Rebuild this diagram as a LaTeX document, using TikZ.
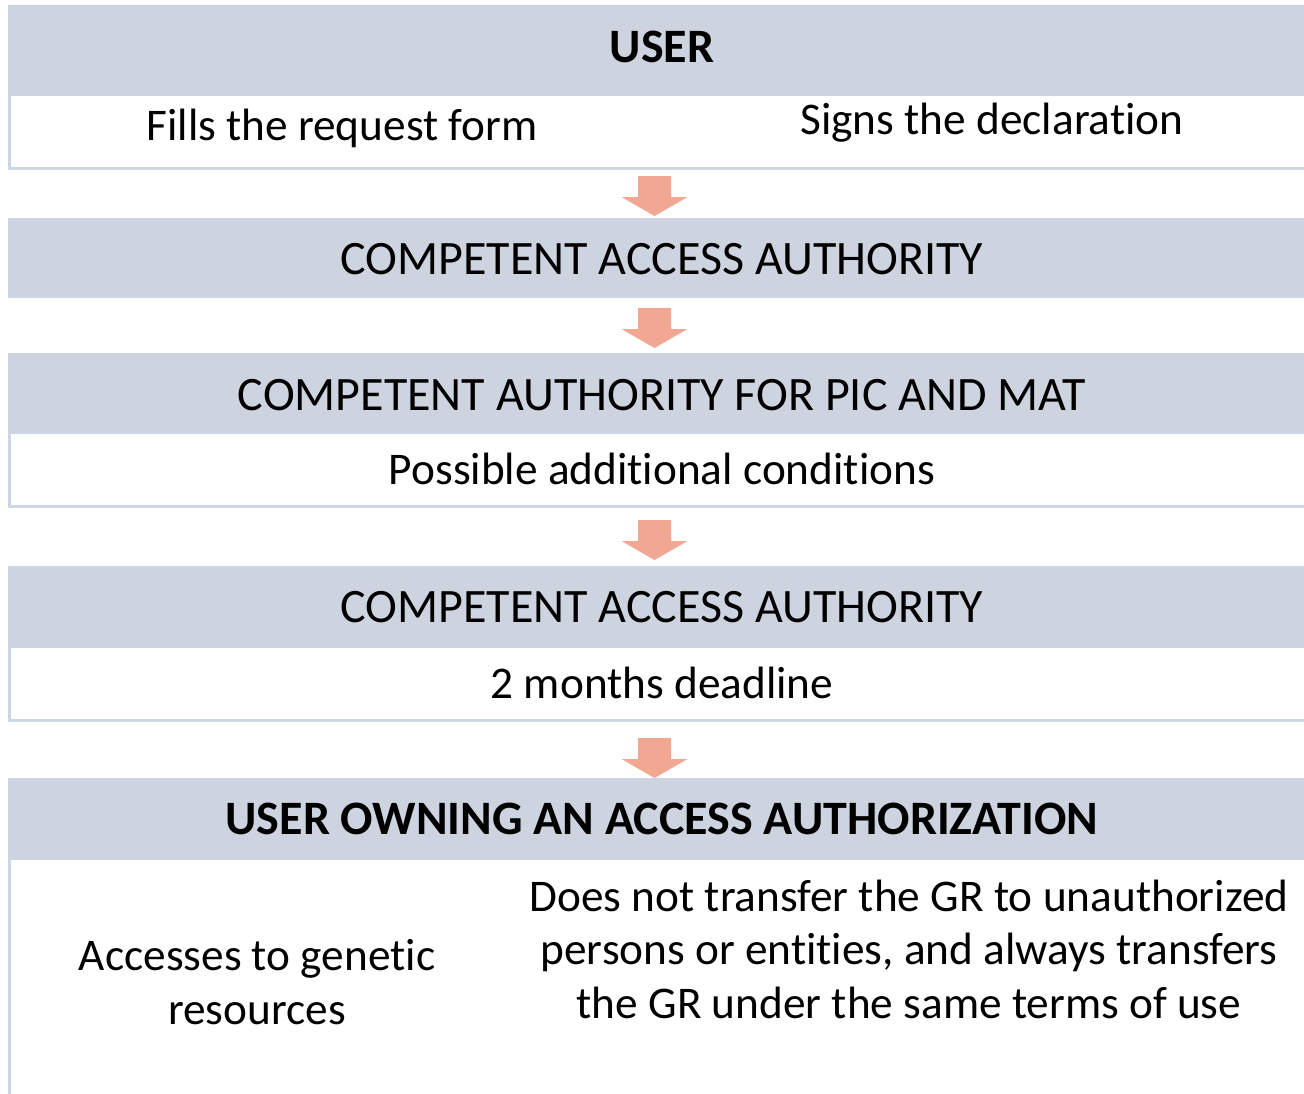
\documentclass[tikz,border=0pt]{standalone}
\usepackage{fontspec}
\setmainfont{Carlito}[Ligatures={NoCommon}]
\usetikzlibrary{calc}
\definecolor{hdrfill}{HTML}{CDD4E0}
\definecolor{bordc}{HTML}{CFD6E3}
\definecolor{arrfill}{HTML}{F2A792}
\newcommand{\bodyfont}{\fontsize{45.3bp}{53.5bp}\selectfont}
\newcommand{\hdrfont}{\fontsize{48bp}{56bp}\selectfont}
\tikzset{
  hdr/.style={rectangle, fill=hdrfill, draw=none, inner sep=0pt, outer sep=0pt, minimum width=1308bp},
  wbox/.style={rectangle, fill=white, draw=none, inner sep=0pt, outer sep=0pt, minimum width=1308bp},
  bord/.style={draw=bordc, line width=3bp},
  htext/.style={anchor=base, inner sep=0pt, font=\hdrfont},
  btext/.style={anchor=base, inner sep=0pt, font=\bodyfont, align=center},
  dnarrow/.pic={\fill[arrfill] (-16.5,0) -- (16.5,0) -- (16.5,21) -- (33,21) -- (0,40) -- (-33,21) -- (-16.5,21) -- cycle;}
}
\begin{document}
\begin{tikzpicture}[x=1bp, y=-1bp]
\clip (0,0) rectangle (1304,1093);
\fill[white] (0,0) rectangle (1304,1093);
% block 1
\node[hdr, minimum height=91bp] (h1) at (662,50.5) {};
\node[wbox, minimum height=74bp] (w1) at (662,133) {};
\draw[bord] ([xshift=1.5bp]w1.north west) |- ([yshift=1.5bp]w1.south east);
% block 2
\node[hdr, minimum height=80bp] (h2) at (662,258) {};
% block 3
\node[hdr, minimum height=81bp] (h3) at (662,393.5) {};
\node[wbox, minimum height=74bp] (w3) at (662,471) {};
\draw[bord] ([xshift=1.5bp]w3.north west) |- ([yshift=1.5bp]w3.south east);
% block 4
\node[hdr, minimum height=82bp] (h4) at (662,607) {};
\node[wbox, minimum height=74bp] (w4) at (662,685) {};
\draw[bord] ([xshift=1.5bp]w4.north west) |- ([yshift=1.5bp]w4.south east);
% block 5
\node[hdr, minimum height=82bp] (h5) at (662,819) {};
\node[wbox, minimum height=240bp] (w5) at (662,980) {};
\draw[bord] ([xshift=1.5bp]w5.north west) -- ([xshift=1.5bp]w5.south west);
% arrows
\pic at ($(h2.north)+(-7.5,-42)$) {dnarrow};
\pic at ($(h3.north)+(-7.5,-45)$) {dnarrow};
\pic at ($(h4.north)+(-7.5,-46)$) {dnarrow};
\pic at ($(h5.north)+(-7.5,-40)$) {dnarrow};
% texts
\node[htext] (t1) at (662,62) {\bfseries USER};
\node[btext] (t1a) at (342,140) {Fills the request form};
\node[btext] (t1b) at (992,134) {Signs the declaration};
\node[htext] (t2) at (662,274) {COMPETENT ACCESS AUTHORITY};
\node[htext] (t3) at (662,410) {COMPETENT AUTHORITY FOR PIC AND MAT};
\node[btext] (t3a) at (662,484) {Possible additional conditions};
\node[htext] (t4) at (662,622) {COMPETENT ACCESS AUTHORITY};
\node[btext] (t4a) at (662,698) {2 months deadline};
\node[htext] (t5) at (662,834) {\bfseries USER OWNING AN ACCESS AUTHORIZATION};
\node[btext] (t5a) at (257,1024) {Accesses to genetic\\resources};
\node[btext] (t5b) at (909,1018) {Does not transfer the GR to unauthorized\\persons or entities, and always transfers\\the GR under the same terms of use};
\end{tikzpicture}
\end{document}
